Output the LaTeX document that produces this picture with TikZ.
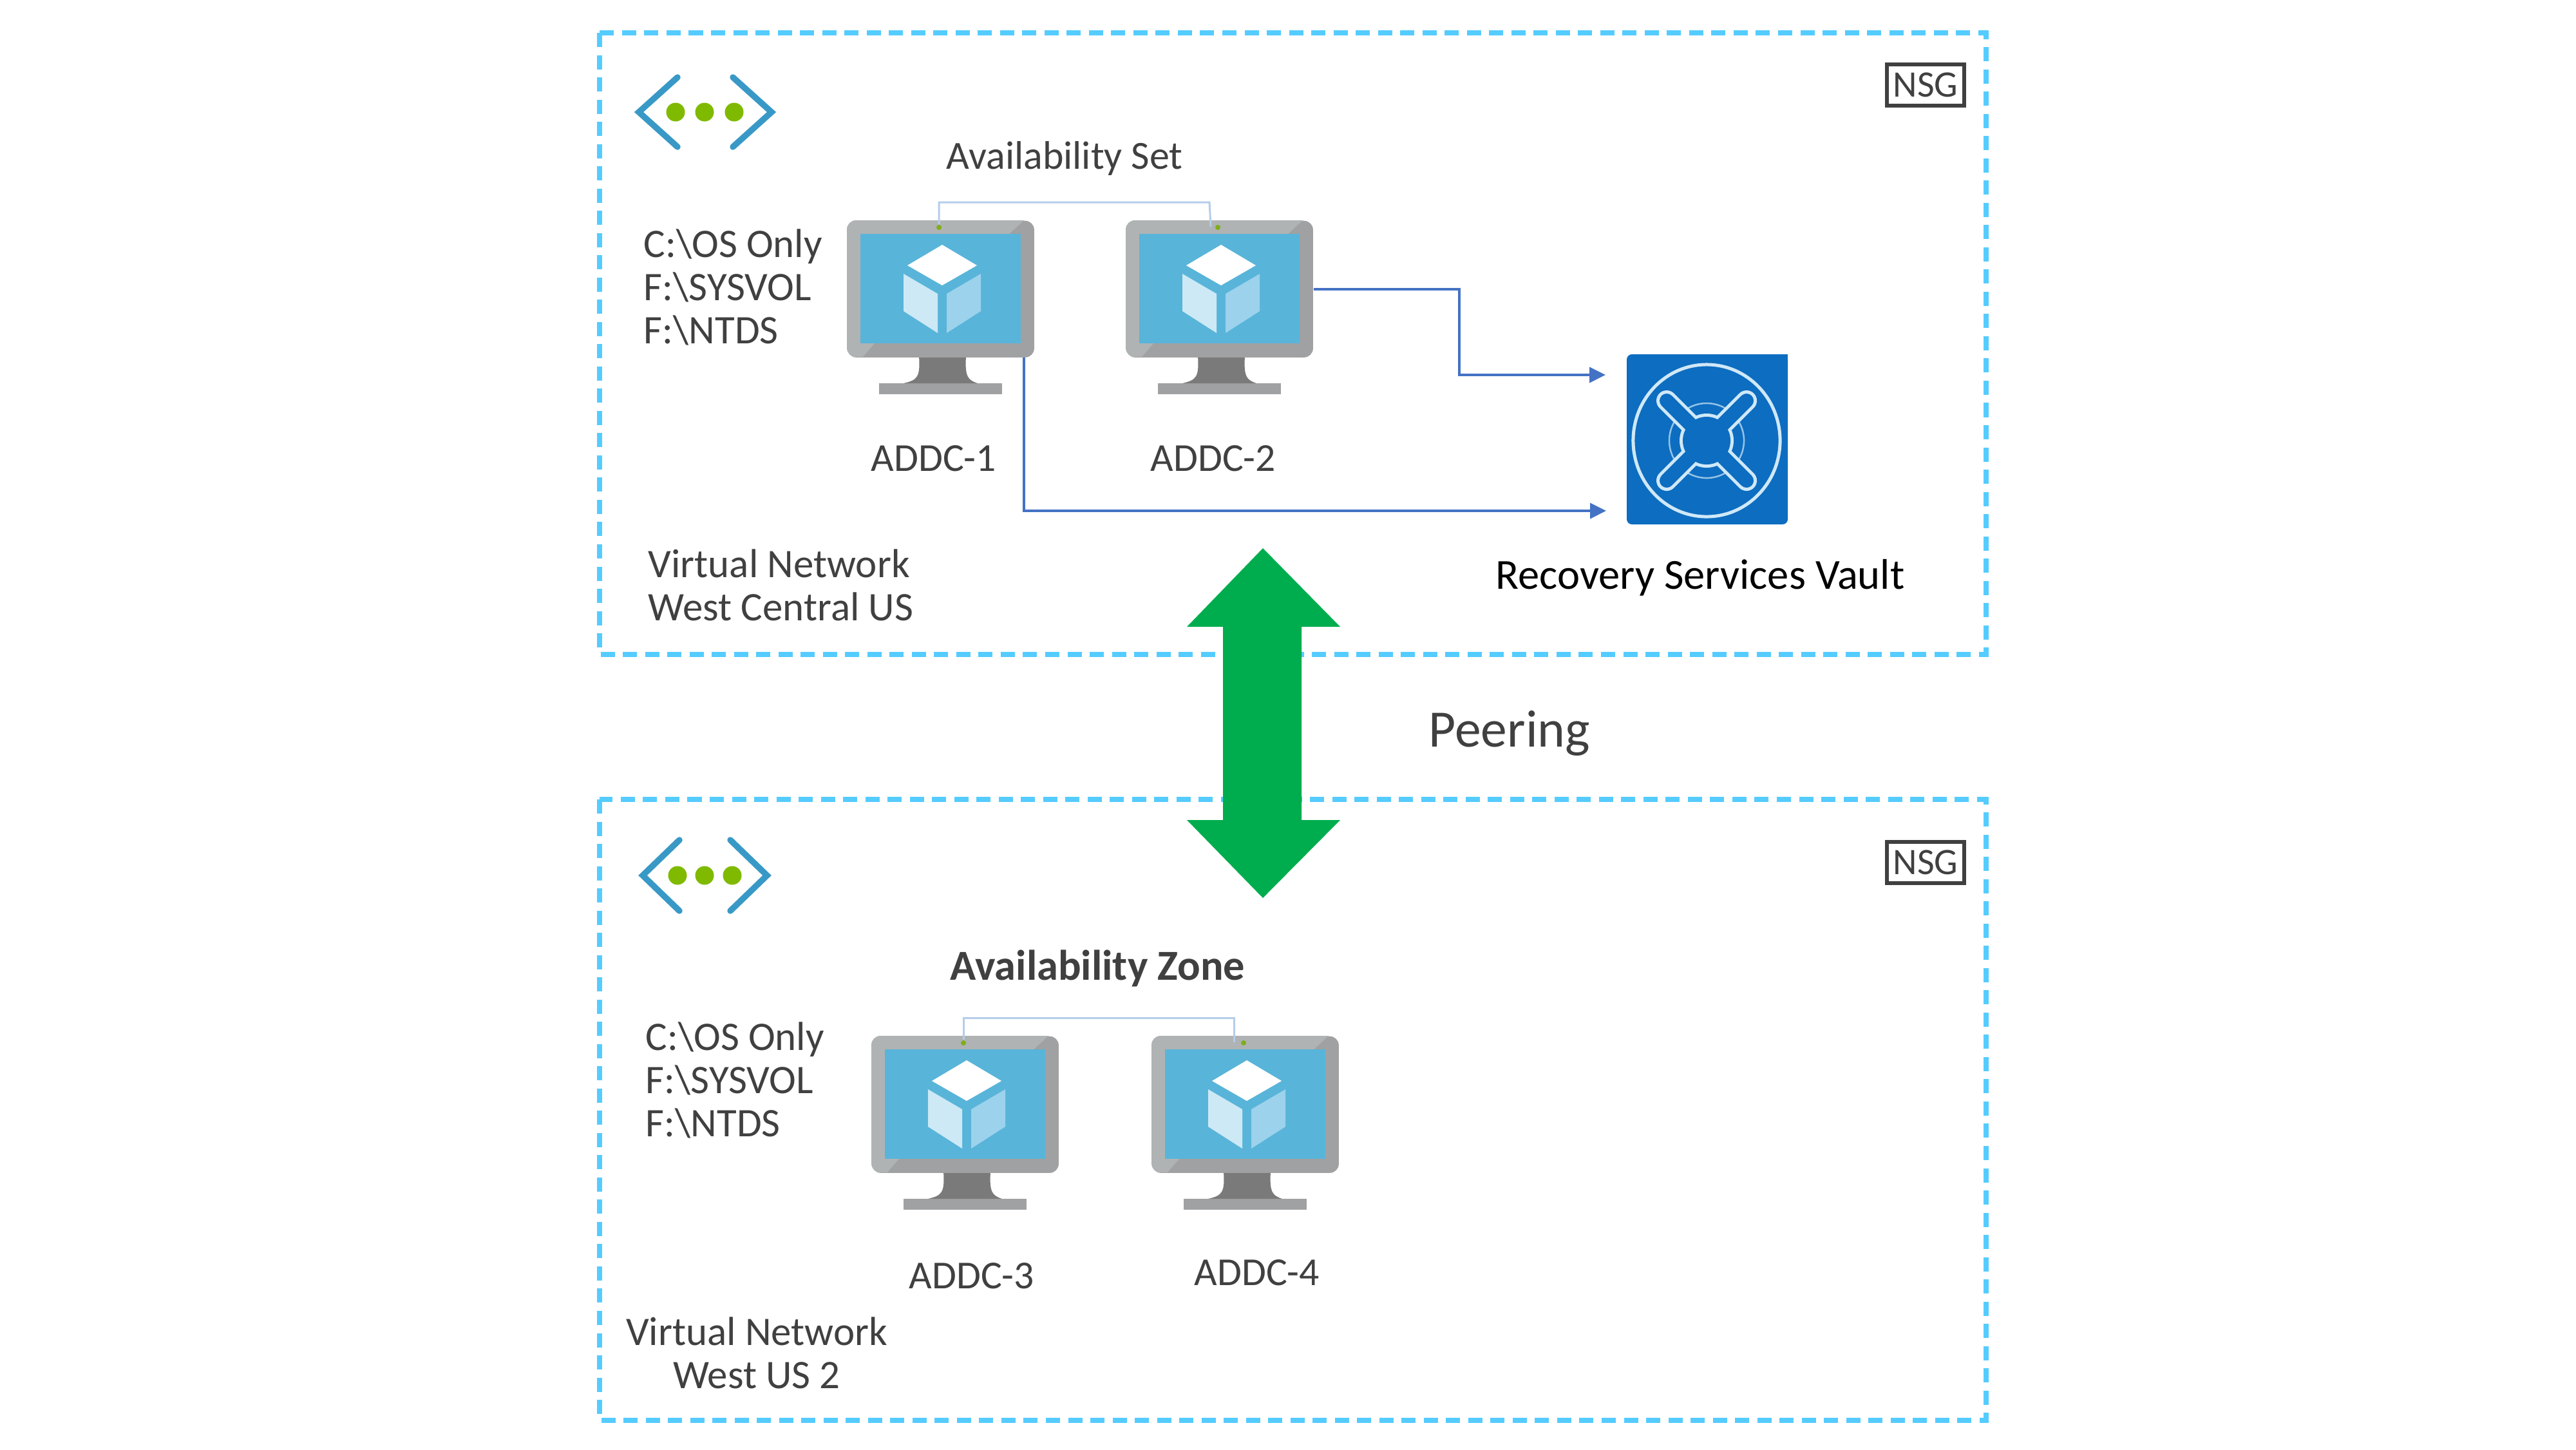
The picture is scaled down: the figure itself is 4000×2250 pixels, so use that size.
\documentclass[tikz,border=0pt]{standalone}
\usepackage{fontspec}
\setmainfont{Carlito}
\usetikzlibrary{arrows.meta}
\definecolor{dashblue}{HTML}{55CCFF}
\definecolor{connblue}{HTML}{4472C4}
\definecolor{availblue}{HTML}{B4CDEA}
\definecolor{framedark}{HTML}{A0A1A2}
\definecolor{framelight}{HTML}{B0B3B3}
\definecolor{neckgrey}{HTML}{7A7A7A}
\definecolor{screenblue}{HTML}{59B4D9}
\definecolor{cubeleft}{HTML}{CDE9F5}
\definecolor{cuberight}{HTML}{9CD2EC}
\definecolor{vnetblue}{HTML}{3999C6}
\definecolor{vnetgreen}{HTML}{7FBA00}
\definecolor{vaultblue}{HTML}{0D6DC0}
\definecolor{vaultline}{HTML}{CFE8F8}
\definecolor{peergreen}{HTML}{00AD4E}
\definecolor{labelgrey}{HTML}{404040}
\tikzset{
  netbox/.style={draw=dashblue,line width=0.08cm,dash pattern=on 0.22cm off 0.125cm},
  lab/.style={inner sep=0pt,text=labelgrey,font=\fontsize{17.5}{19.05}\selectfont},
  labl/.style={lab,anchor=base west},
  blockl/.style={lab,anchor=north west,align=left,font=\fontsize{17.9}{19.05}\selectfont},
  blockc/.style={lab,anchor=north,align=center,font=\fontsize{17.9}{19.05}\selectfont},
  conn/.style={draw=connblue,line width=0.035cm,-{Triangle[length=0.25cm,width=0.24cm]}},
  availconn/.style={draw=availblue,line width=0.03cm},
  chevron/.style={draw=vnetblue,line width=0.095cm,line cap=round,line join=miter},
  nsgbox/.style={draw=labelgrey,line width=0.06cm,fill=white,inner sep=0pt,minimum width=1.2cm,minimum height=0.64cm,text=labelgrey,font=\fontsize{16.5}{18}\selectfont},
  bodystyle/.style={fill=framedark,rounded corners=0.14cm,inner sep=0pt,minimum width=2.9cm,minimum height=2.12cm},
  greendot/.style={circle,fill=vnetgreen,inner sep=0pt,minimum size=0.29cm},
  camdot/.style={circle,fill=vnetgreen!80!gray,inner sep=0pt,minimum size=0.08cm},
}
% \monitor{name}{left}{top}
\newcommand{\monitor}[3]{%
  \begin{scope}[shift={(#2,#3)}]
    \fill[framedark] (52,255) rectangle (243,272);
    \fill[neckgrey] (114,213) .. controls (116,245) and (112,250) .. (90,255) -- (205,255) .. controls (190,250) and (185,245) .. (187,213) -- cycle;
    \node[bodystyle,anchor=north west] (#1) at (2,2) {};
    \begin{scope}
      \clip[rounded corners=0.14cm] (2,2) rectangle (292,214);
      \fill[framelight] (2,2) -- (277,2) -- (254,23) -- (23,23) -- (23,193) -- (45,193) -- (27,214) -- (2,214) -- cycle;
    \end{scope}
    \fill[screenblue] (23,23) rectangle (272,193);
    \fill[white] (150,40) -- (204,72) -- (150,103) -- (96,72) -- cycle;
    \fill[cubeleft] (90,85) -- (143,116) -- (143,177) -- (90,143) -- cycle;
    \fill[cuberight] (157,116) -- (210,85) -- (210,143) -- (157,177) -- cycle;
    \node[camdot] (#1dot) at (145,13) {};
  \end{scope}}
% \vnet{left tip x}{right tip x}{arm dx}{mid y}{arm dy}{dot x1}{dot x2}{dot x3}{name}
\newcommand{\vnet}[9]{%
  \draw[chevron] (#1+#3,#4-#5) -- (#1,#4) -- (#1+#3,#4+#5);
  \draw[chevron] (#2-#3,#4-#5) -- (#2,#4) -- (#2-#3,#4+#5);
  \node[greendot] (#9a) at (#6,#4) {};
  \node[greendot] (#9b) at (#7,#4) {};
  \node[greendot] (#9c) at (#8,#4) {};}
\begin{document}
\begin{tikzpicture}[x=0.01cm,y=-0.01cm]
\useasboundingbox (0,0) rectangle (4000,2250);
\fill[white] (0,0) rectangle (4000,2250);

% network boxes
\draw[netbox] (931,51) rectangle (3084,1016);
\draw[netbox] (931,1241) rectangle (3084,2205);

% peering arrow
\fill[peergreen] (1961,851) -- (2081,973) -- (2021,973) -- (2021,1273) -- (2081,1273) -- (1961,1394) -- (1843,1273) -- (1899,1273) -- (1899,973) -- (1843,973) -- cycle;

% vnet icons
\vnet{992}{1198}{60}{174}{54}{1049}{1094}{1140}{vna}
\vnet{998}{1191}{57}{1359}{55}{1052}{1094}{1137}{vnb}

% monitors
\monitor{addcA}{1313}{340}
\monitor{addcB}{1746}{340}
\monitor{addcC}{1351}{1606}
\monitor{addcD}{1786}{1606}

% availability connectors
\coordinate (asTop) at (1878,314);
\coordinate (asEnd) at (1880,352);
\draw[availconn] (addcAdot.north) |- (asTop) -- (asEnd);
\coordinate (azTop) at (1916,1580);
\coordinate (azEnd) at (1916,1618);
\draw[availconn] (addcCdot.north) |- (azTop) -- (azEnd);

% vault
\fill[vaultblue,rounded corners=0.08cm] (2526,550) -- (2526,814) -- (2776,814) -- (2776,600) -- (2776,550) -- cycle;
\fill[vaultblue] (2700,550) rectangle (2776,600);
\node[inner sep=0pt,minimum width=2.5cm,minimum height=2.64cm] (vault) at (2651,682) {};
\begin{scope}[shift={(2650,684)}]
  \draw[vaultline,line width=0.05cm] (0,0) ellipse [x radius=1.14cm,y radius=1.18cm];
  \draw[vaultline!70!vaultblue,line width=0.025cm] (0,0) circle [radius=0.58cm];
  \draw[vaultline,line width=0.32cm,line cap=round] (-62,-62) -- (62,62) (-62,62) -- (62,-62);
  \fill[vaultline] (0,0) circle [radius=0.42cm];
  \draw[vaultblue,line width=0.22cm,line cap=round] (-62,-62) -- (62,62) (-62,62) -- (62,-62);
  \fill[vaultblue] (0,0) circle [radius=0.37cm];
\end{scope}

% connectors to vault
\coordinate (bend) at (2266,582);
\coordinate (endA) at (2493,582);
\coordinate (startB) at (1590,555);
\coordinate (bendB) at (1590,793);
\coordinate (endB) at (2494,793);
\draw[conn] (addcB.east) -| (bend) -- (endA);
\draw[conn] (startB) -- (bendB) -- (endB);

% NSG badges
\node[nsgbox] (nsga) at (2990,132) {NSG};
\node[nsgbox] (nsgb) at (2990,1339) {NSG};

% labels
\node[labl,font=\fontsize{17.6}{20}\selectfont] (availset) at (1469,262) {Availability Set};
\node[labl,font=\fontsize{18.9}{20}\selectfont\bfseries] (availzone) at (1475,1521) {Availability Zone};
\node[blockl] (drivesa) at (999,355) {C:\textbackslash OS Only\\F:\textbackslash SYSVOL\\F:\textbackslash NTDS};
\node[blockl] (drivesb) at (1002,1586) {C:\textbackslash OS Only\\F:\textbackslash SYSVOL\\F:\textbackslash NTDS};
\node[labl] (la) at (1352,731) {ADDC-1};
\node[labl] (lb) at (1786,731) {ADDC-2};
\node[labl] (lc) at (1411,2000) {ADDC-3};
\node[labl] (ld) at (1854,1995) {ADDC-4};
\node[blockl] (vneta) at (1006,852) {Virtual Network\\West Central US};
\node[blockc] (vnetb) at (1175,2044) {Virtual Network\\West US 2};
\node[labl,text=black,font=\fontsize{18.9}{20}\selectfont] (rsv) at (2322,914) {Recovery Services Vault};
\node[labl,font=\fontsize{23.2}{24}\selectfont] (peer) at (2218,1159) {Peering};
\end{tikzpicture}
\end{document}
